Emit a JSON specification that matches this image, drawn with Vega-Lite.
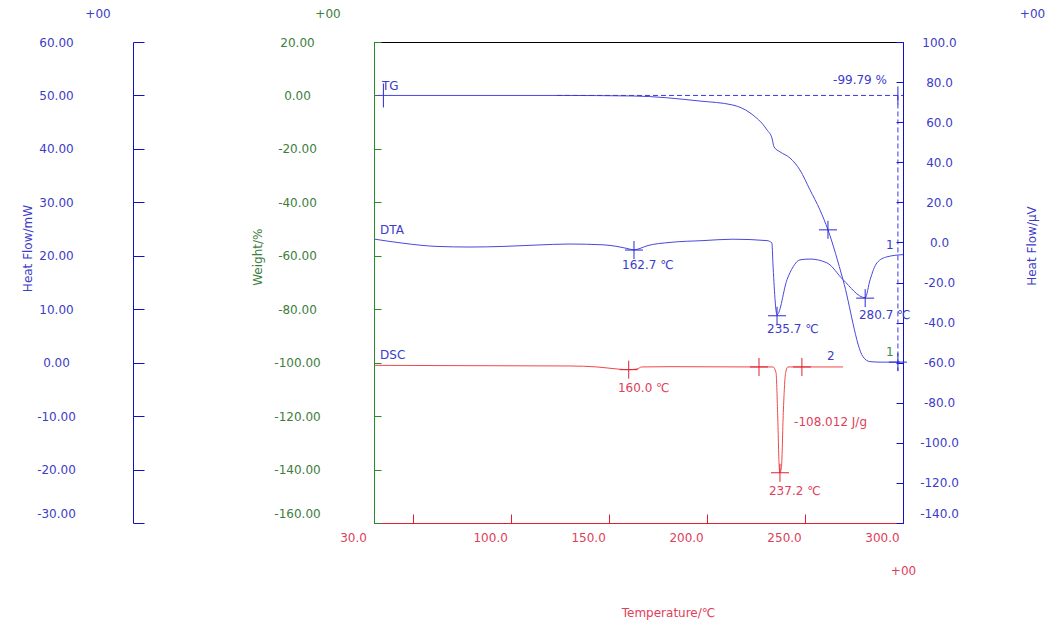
{
  "$schema": "https://vega.github.io/schema/vega-lite/v6.json",
  "width": 529,
  "height": 481,
  "autosize": {"type": "none"},
  "padding": {"left": 374, "top": 42, "right": 154, "bottom": 105},
  "background": "#ffffff",
  "config": {
    "locale": {"number": {"decimal": ".", "thousands": ",", "grouping": [3], "currency": ["$", ""], "minus": "-"}},
    "view": {"stroke": "#000000", "strokeWidth": 1},
    "font": "DejaVu Sans",
    "axis": {"grid": false, "labelFont": "DejaVu Sans", "titleFont": "DejaVu Sans", "labelFontSize": 12, "titleFontSize": 12, "titleFontWeight": "normal", "labelFlush": false, "labelOverlap": false, "domainWidth": 1, "tickWidth": 1},
    "text": {"font": "DejaVu Sans", "fontSize": 12}
  },
  "datasets": {
    "tg": [
      {"T": 31, "v": 0}, {"T": 124.9, "v": 0}, {"T": 162.2, "v": -0.2}, {"T": 196.4, "v": -2.1},
      {"T": 213.2, "v": -3.6}, {"T": 221.9, "v": -6.5}, {"T": 230.6, "v": -12.9}, {"T": 233.1, "v": -15.9},
      {"T": 234.2, "v": -19.3}, {"T": 237.2, "v": -21.1}, {"T": 242.3, "v": -23.4}, {"T": 247.4, "v": -27.9},
      {"T": 252.5, "v": -35.3}, {"T": 257.6, "v": -42.8}, {"T": 261.7, "v": -50.3}, {"T": 269.4, "v": -69.0},
      {"T": 279.6, "v": -97.8}, {"T": 283.1, "v": -99.6}, {"T": 288.3, "v": -99.8}, {"T": 298.5, "v": -99.8}
    ],
    "tgDash": [
      {"T": 123.4, "T2": 300, "v": 0, "v2": 0},
      {"T": 297.4, "T2": 297.4, "v": 0, "v2": -103}
    ],
    "tgCross": [{"T": 261.7, "v": -50.3}, {"T": 297.4, "v": -99.8}],
    "tgTickBig": [{"T": 34.8, "v": 0}],
    "tgTickSmall": [{"T": 297.4, "v": 0}],
    "tgTextBlue": [
      {"T": 34.1, "v": 3.6, "label": "TG"},
      {"T": 264.3, "v": 5.8, "label": "-99.79 %"}
    ],
    "tgTextGreen": [{"T": 291.3, "v": -96.1, "label": "1"}],
    "dta": [
      {"T": 30.5, "v": 1.6}, {"T": 44.8, "v": -0.4}, {"T": 62.2, "v": -2.0}, {"T": 79, "v": -2.3},
      {"T": 95.8, "v": -2.0}, {"T": 113.2, "v": -1.3}, {"T": 130, "v": -0.8}, {"T": 146.9, "v": -1.2},
      {"T": 154, "v": -2.0}, {"T": 159.1, "v": -3.0}, {"T": 162.7, "v": -3.7}, {"T": 165.8, "v": -3.0},
      {"T": 169.3, "v": -1.7}, {"T": 181.1, "v": 0.0}, {"T": 197.9, "v": 0.9}, {"T": 213.2, "v": 1.6},
      {"T": 230.6, "v": 0.9}, {"T": 233.1, "v": -0.3}, {"T": 233.6, "v": -10.2}, {"T": 235.7, "v": -36.1},
      {"T": 240.8, "v": -18.6}, {"T": 243.9, "v": -12.2}, {"T": 247.4, "v": -8.7}, {"T": 252.5, "v": -8.3},
      {"T": 261.2, "v": -10.2}, {"T": 269.4, "v": -18.6}, {"T": 280.7, "v": -27.6}, {"T": 283.2, "v": -18.6},
      {"T": 286.7, "v": -10.2}, {"T": 291.8, "v": -7.2}, {"T": 300, "v": -6.1}
    ],
    "dtaCross": [{"T": 162.7, "v": -3.8}, {"T": 235.7, "v": -36.6}, {"T": 280.7, "v": -27.8}],
    "dtaText": [
      {"T": 33.1, "v": 6.3, "label": "DTA"},
      {"T": 156.6, "v": -11.2, "label": "162.7 ℃"},
      {"T": 230.6, "v": -43.1, "label": "235.7 ℃"},
      {"T": 277.5, "v": -36.1, "label": "280.7 ℃"},
      {"T": 291.3, "v": -1.2, "label": "1"}
    ],
    "dsc": [
      {"T": 30.5, "v": -0.5}, {"T": 79, "v": -0.56}, {"T": 130, "v": -0.62}, {"T": 143.8, "v": -0.8},
      {"T": 154, "v": -1.18}, {"T": 160, "v": -1.31}, {"T": 164.2, "v": -1.18}, {"T": 166.7, "v": -0.8},
      {"T": 181.1, "v": -0.75}, {"T": 206.6, "v": -0.78}, {"T": 221.9, "v": -0.8}, {"T": 233.6, "v": -0.8},
      {"T": 235.2, "v": -1.87}, {"T": 236.0, "v": -9.35}, {"T": 236.8, "v": -19.38}, {"T": 237.2, "v": -20.56},
      {"T": 238.0, "v": -19.38}, {"T": 238.9, "v": -9.35}, {"T": 240.1, "v": -1.87}, {"T": 241.3, "v": -0.8},
      {"T": 269.4, "v": -0.8}
    ],
    "dscCross": [{"T": 160, "v": -1.31}, {"T": 226.5, "v": -0.8}, {"T": 248.4, "v": -0.8}, {"T": 237.2, "v": -20.6}],
    "dscTextBlue": [
      {"T": 33.1, "v": 1.36, "label": "DSC"},
      {"T": 261.2, "v": 1.18, "label": "2"}
    ],
    "dscTextRed": [
      {"T": 154.5, "v": -4.67, "label": "160.0 ℃"},
      {"T": 244.4, "v": -11.16, "label": "-108.012 J/g"},
      {"T": 231.6, "v": -24.1, "label": "237.2 ℃"}
    ]
  },
  "layer": [
    {
      "data": {"name": "tg"},
      "mark": {"type": "line", "color": "#4848e0", "strokeWidth": 1, "interpolate": "monotone"},
      "encoding": {
        "x": {"field": "T", "type": "quantitative", "scale": {"domain": [30, 300], "nice": false, "zero": false}, "axis": null},
        "y": {"field": "v", "type": "quantitative", "scale": {"domain": [-160, 20], "nice": false, "zero": false},
          "axis": {"orient": "left", "offset": 0, "values": [-160, -140, -120, -100, -80, -60, -40, -20, 0, 20], "format": ".2f",
            "domainColor": "#2a8a2a", "tickColor": "#2a8a2a", "tickSize": -7, "labelColor": "#3d7d3d",
            "labelAlign": "center", "labelBaseline": "middle", "labelPadding": 84,
            "labelOffset": {"condition": {"test": "datum.value === -160", "value": -10}, "value": 0},
            "title": "Weight/%", "titleColor": "#3d7d3d", "titleAngle": 270, "titleX": -117, "titleY": 214.7,
            "titleAlign": "center", "titleBaseline": "middle"}}
      }
    },
    {
      "encoding": {
        "x": {"field": "T", "type": "quantitative", "scale": {"domain": [30, 300], "nice": false, "zero": false}, "axis": null},
        "y": {"field": "v", "type": "quantitative", "scale": {"domain": [-160, 20], "nice": false, "zero": false},
          "axis": {"orient": "left", "domain": false, "ticks": false, "labels": false, "title": "+00", "titleColor": "#3d7d3d",
            "titleAngle": 0, "titleX": -46.5, "titleY": -29, "titleAlign": "center", "titleBaseline": "middle"}}
      },
      "layer": [
        {"data": {"name": "tgDash"}, "mark": {"type": "rule", "color": "#3a3ad8", "strokeDash": [5, 3], "strokeWidth": 1},
          "encoding": {"x2": {"field": "T2"}, "y2": {"field": "v2"}}},
        {"data": {"name": "tgCross"}, "mark": {"type": "point", "shape": "M-1,0H1M0,-1V1", "size": 324, "filled": false, "color": "#2a2ad0", "strokeWidth": 1, "opacity": 1}},
        {"data": {"name": "tgTickBig"}, "mark": {"type": "point", "shape": "M0,-1V1", "size": 576, "filled": false, "color": "#2a2ad0", "strokeWidth": 1, "opacity": 1}},
        {"data": {"name": "tgTickSmall"}, "mark": {"type": "point", "shape": "M0,-1V1", "size": 324, "filled": false, "color": "#2a2ad0", "strokeWidth": 1, "opacity": 1}},
        {"data": {"name": "tgTextBlue"}, "mark": {"type": "text", "align": "left", "baseline": "middle", "color": "#3c3cc8"},
          "encoding": {"text": {"field": "label"}}},
        {"data": {"name": "tgTextGreen"}, "mark": {"type": "text", "align": "left", "baseline": "middle", "color": "#3d8d3d"},
          "encoding": {"text": {"field": "label"}}}
      ]
    },
    {
      "data": {"name": "dta"},
      "mark": {"type": "line", "color": "#4848e0", "strokeWidth": 1, "interpolate": "monotone"},
      "encoding": {
        "x": {"field": "T", "type": "quantitative", "scale": {"domain": [30, 300], "nice": false, "zero": false}, "axis": null},
        "y": {"field": "v", "type": "quantitative", "scale": {"domain": [-140, 100], "nice": false, "zero": false},
          "axis": {"orient": "right", "offset": 0, "values": [-140, -120, -100, -80, -60, -40, -20, 0, 20, 40, 60, 80, 100], "format": ".1f",
            "domainColor": "#1010c8", "tickColor": "#1010c8", "tickSize": -7, "labelColor": "#3c3cc8",
            "labelAlign": "center", "labelBaseline": "middle", "labelPadding": 43,
            "labelOffset": {"condition": {"test": "datum.value === -140", "value": -10}, "value": 0},
            "title": "Heat Flow/µV", "titleColor": "#3c3cc8", "titleAngle": 270, "titleX": 128, "titleY": 203.5,
            "titleAlign": "center", "titleBaseline": "middle"}}
      }
    },
    {
      "encoding": {
        "x": {"field": "T", "type": "quantitative", "scale": {"domain": [30, 300], "nice": false, "zero": false}, "axis": null},
        "y": {"field": "v", "type": "quantitative", "scale": {"domain": [-140, 100], "nice": false, "zero": false},
          "axis": {"orient": "right", "domain": false, "ticks": false, "labels": false, "title": "+00", "titleColor": "#3c3cc8",
            "titleAngle": 0, "titleX": 129, "titleY": -29, "titleAlign": "center", "titleBaseline": "middle"}}
      },
      "layer": [
        {"data": {"name": "dtaCross"}, "mark": {"type": "point", "shape": "M-1,0H1M0,-1V1", "size": 324, "filled": false, "color": "#2a2ad0", "strokeWidth": 1, "opacity": 1}},
        {"data": {"name": "dtaText"}, "mark": {"type": "text", "align": "left", "baseline": "middle", "color": "#3c3cc8"},
          "encoding": {"text": {"field": "label"}}}
      ]
    },
    {
      "data": {"name": "dsc"},
      "mark": {"type": "line", "color": "#f04848", "strokeWidth": 1, "interpolate": "monotone"},
      "encoding": {
        "x": {"field": "T", "type": "quantitative", "scale": {"domain": [30, 300], "nice": false, "zero": false},
          "axis": {"orient": "bottom", "values": [30, 100, 150, 200, 250, 300], "format": ".1f", "ticks": false,
            "domainColor": "#e02030", "labelColor": "#e0405a", "labelOffset": -21, "labelPadding": 9,
            "title": "Temperature/℃", "titleColor": "#e0405a", "titleX": 294, "titleY": 89.4,
            "titleAlign": "center", "titleBaseline": "middle"}},
        "y": {"field": "v", "type": "quantitative", "scale": {"domain": [-30, 60], "nice": false, "zero": false},
          "axis": {"orient": "left", "offset": 241, "values": [-30, -20, -10, 0, 10, 20, 30, 40, 50, 60], "format": ".2f",
            "domainColor": "#1010c8", "tickColor": "#1010c8", "tickSize": -11, "labelColor": "#3c3cc8",
            "labelAlign": "center", "labelBaseline": "middle", "labelPadding": 88,
            "labelOffset": {"condition": {"test": "datum.value === -30", "value": -10}, "value": 0},
            "title": "Heat Flow/mW", "titleColor": "#3c3cc8", "titleAngle": 270, "titleX": -106, "titleY": 206,
            "titleAlign": "center", "titleBaseline": "middle"}}
      }
    },
    {
      "encoding": {
        "x": {"field": "T", "type": "quantitative", "scale": {"domain": [30, 300], "nice": false, "zero": false},
          "axis": {"orient": "bottom", "values": [50, 100, 150, 200, 250, 300], "labels": false, "tickSize": -9,
            "tickColor": "#e02030", "domainColor": "#e02030", "title": "+00", "titleColor": "#e0405a",
            "titleAngle": 0, "titleX": 529, "titleY": 47.4, "titleAlign": "center", "titleBaseline": "middle"}},
        "y": {"field": "v", "type": "quantitative", "scale": {"domain": [-30, 60], "nice": false, "zero": false},
          "axis": {"orient": "left", "offset": 241, "domain": false, "ticks": false, "labels": false, "title": "+00", "titleColor": "#3c3cc8",
            "titleAngle": 0, "titleX": -35.5, "titleY": -29, "titleAlign": "center", "titleBaseline": "middle"}}
      },
      "layer": [
        {"data": {"name": "dscCross"}, "mark": {"type": "point", "shape": "M-1,0H1M0,-1V1", "size": 324, "filled": false, "color": "#e02030", "strokeWidth": 1, "opacity": 1}},
        {"data": {"name": "dscTextBlue"}, "mark": {"type": "text", "align": "left", "baseline": "middle", "color": "#3c3cc8"},
          "encoding": {"text": {"field": "label"}}},
        {"data": {"name": "dscTextRed"}, "mark": {"type": "text", "align": "left", "baseline": "middle", "color": "#e0405a"},
          "encoding": {"text": {"field": "label"}}}
      ]
    }
  ],
  "resolve": {"scale": {"x": "independent", "y": "independent"}}
}
